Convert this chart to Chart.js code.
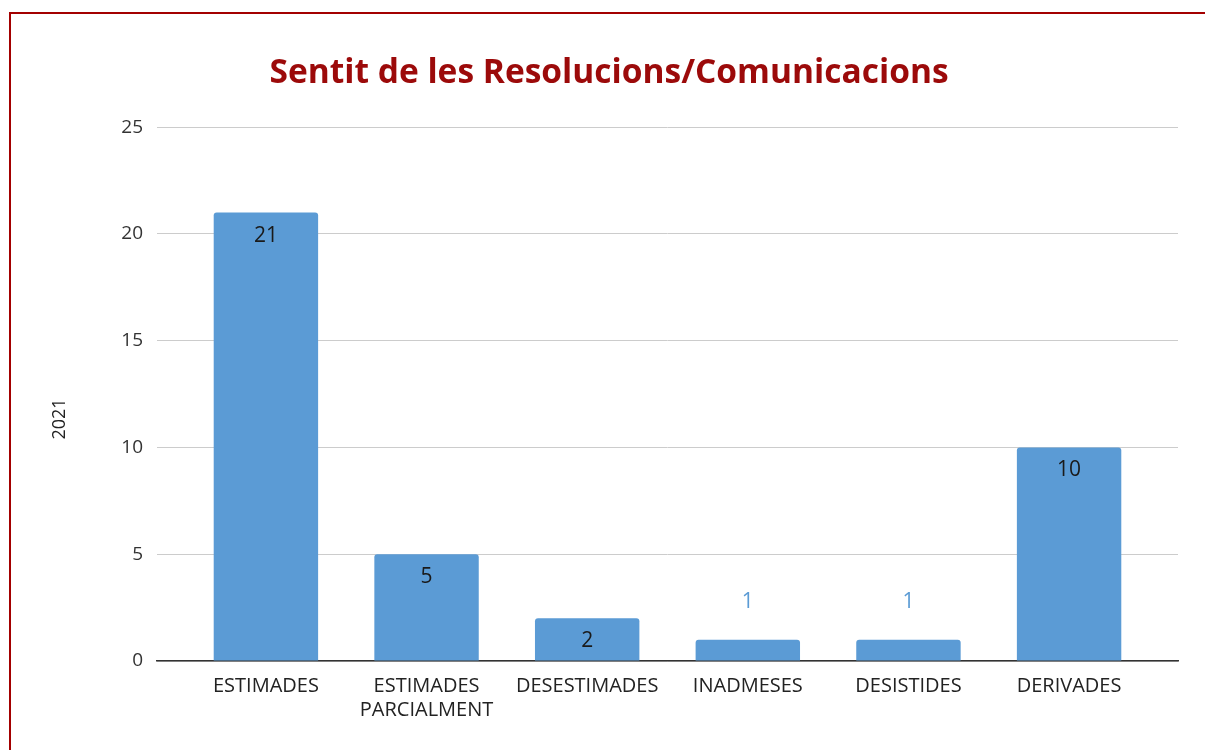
<!DOCTYPE html>
<html>
<head>
<meta charset="utf-8">
<script src="https://cdn.jsdelivr.net/npm/chart.js@4"></script>
<style>
  body { margin: 0; background: #fff; overflow: hidden; }
  #frame {
    position: absolute; left: 9px; top: 12px; width: 1300px; height: 900px;
    border: 2px solid #a30000; box-sizing: border-box;
  }
  #wrap { position: absolute; left: 0; top: 0; width: 1205px; height: 750px; }
</style>
</head>
<body>
<div id="frame"></div>
<div id="wrap"><canvas id="barChart" width="1205" height="750"></canvas></div>
<script>
const categories = ["ESTIMADES", ["ESTIMADES", "PARCIALMENT"], "DESESTIMADES", "INADMESES", "DESISTIDES", "DERIVADES"];
const values2021 = [21, 5, 2, 1, 1, 10];
const yTicks = [0, 5, 10, 15, 20, 25];
const yTitle = '2021';

const barColor = '#5b9bd5';

// etiquetes de valor sobre/dins de cada barra + títol de l'eix Y
const valueLabels = {
  id: 'valueLabels',
  afterDatasetsDraw(chart) {
    const ctx = chart.ctx;
    const meta = chart.getDatasetMeta(0);
    ctx.save();
    ctx.font = '21px "Open Sans"';
    ctx.textAlign = 'center';
    ctx.textBaseline = 'middle';
    meta.data.forEach((bar, i) => {
      const h = bar.base - bar.y;
      if (h > 40) {
        ctx.fillStyle = '#1a1a1a';
        ctx.fillText(values2021[i], bar.x, bar.y + 23);
      } else {
        ctx.fillStyle = barColor;
        ctx.fillText(values2021[i], bar.x, bar.y - 38);
      }
    });
    // títol vertical
    ctx.font = '18px "Open Sans"';
    ctx.fillStyle = '#222';
    ctx.translate(60, 419);
    ctx.rotate(-Math.PI / 2);
    ctx.fillText(yTitle, 0, 0);
    ctx.restore();
  }
};

const ctx1 = document.getElementById('barChart').getContext('2d');
const chart1 = new Chart(ctx1, {
  type: 'bar',
  data: {
    datasets: [{
      label: yTitle,
      data: values2021.map((v, i) => ({ x: i, y: v })),
      backgroundColor: barColor,
      borderRadius: { topLeft: 3, topRight: 3 },
      borderSkipped: 'bottom',
      barPercentage: 0.65,
      categoryPercentage: 1
    }]
  },
  options: {
    responsive: false,
    animation: false,
    layout: { padding: { left: 40, right: 27, top: 0, bottom: 0 } },
    plugins: {
      legend: { display: false },
      tooltip: { enabled: false },
      title: {
        display: true,
        text: 'Sentit de les Resolucions/Comunicacions',
        color: '#9c0a0a',
        font: { family: '"Open Sans"', size: 33.5, weight: 'bold' },
        padding: { top: 53, bottom: 34 }
      }
    },
    scales: {
      x: {
        type: 'linear',
        offset: false,
        min: -0.678,
        max: 5.678,
        afterBuildTicks(scale) { scale.ticks = categories.map((c, i) => ({ value: i })); },
        grid: { display: false, drawTicks: false, offset: false },
        border: { color: '#333', width: 1.5 },
        ticks: {
          color: '#222',
          font: { family: '"Open Sans"', size: 20 },
          padding: 13,
          maxRotation: 0,
          autoSkip: false,
          callback: (v) => categories[v]
        },
        afterFit(scale) { scale.height = 89; }
      },
      y: {
        min: 0,
        max: 25,
        afterBuildTicks(scale) { scale.ticks = yTicks.map(v => ({ value: v })); },
        grid: { color: '#cccccc', drawTicks: false },
        border: { display: false },
        ticks: {
          color: '#333',
          font: { family: '"Open Sans"', size: 19 },
          padding: 14
        },
        afterFit(scale) { scale.width = 117; }
      }
    }
  },
  plugins: [valueLabels]
});
</script>
</body>
</html>
